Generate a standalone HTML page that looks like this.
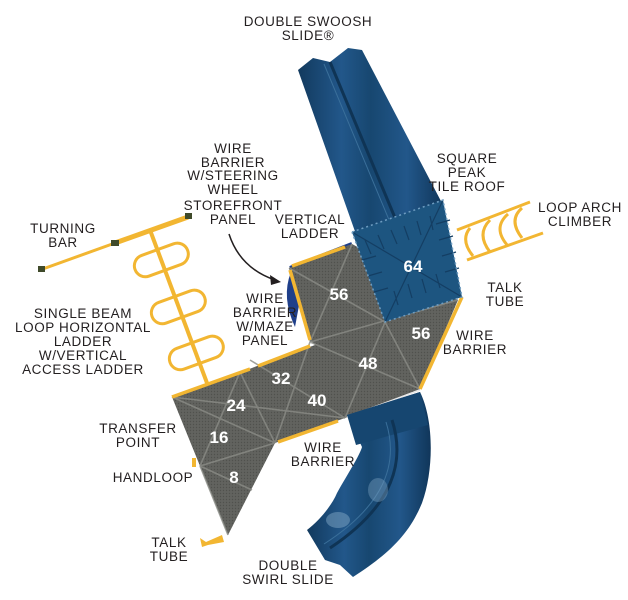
<!DOCTYPE html>
<html><head><meta charset="utf-8"><style>
html,body{margin:0;padding:0;background:#fff;}
svg{display:block;}
.l{font-family:"Liberation Sans",sans-serif;font-size:13.5px;fill:#231f20;text-anchor:middle;letter-spacing:0.6px;}
.n{font-family:"Liberation Sans",sans-serif;font-size:17px;font-weight:bold;fill:#fff;text-anchor:middle;}
</style></head><body>
<svg width="628" height="600" viewBox="0 0 628 600" xmlns="http://www.w3.org/2000/svg">
<defs>
<pattern id="mesh" width="3" height="3" patternUnits="userSpaceOnUse">
<rect width="3" height="3" fill="#62635f"/><circle cx="1.5" cy="1.5" r="0.7" fill="#50514d"/>
</pattern>
<linearGradient id="sl" x1="0" y1="0" x2="1" y2="0">
<stop offset="0" stop-color="#123a5e"/><stop offset="0.3" stop-color="#22578a"/><stop offset="0.5" stop-color="#174770"/><stop offset="0.75" stop-color="#22578a"/><stop offset="1" stop-color="#10365a"/>
</linearGradient>
</defs>

<!-- top slide -->
<polygon points="298,70 313,58 330,62 348,48 362,50 443,205 358,240" fill="url(#sl)"/>
<line x1="330" y1="62" x2="398" y2="225" stroke="#0f3455" stroke-width="3"/>
<line x1="324" y1="64" x2="392" y2="227" stroke="#3a6f9a" stroke-width="1"/>

<!-- loop arch climber -->
<g stroke="#f2b632" stroke-width="3" fill="none">
<line x1="457" y1="230" x2="530" y2="202"/>
<line x1="467" y1="260" x2="543" y2="233"/>
<path d="M470,228 q-10,12 3,28"/>
<path d="M490,220 q-14,14 0,32"/>
<path d="M508,214 q-16,14 0,32"/>
<path d="M522,208 q-14,12 0,30"/>
</g>

<!-- left ladder -->
<g stroke="#f2b632" fill="none">
<line x1="40" y1="270" x2="115" y2="243" stroke-width="3"/>
<line x1="115" y1="243" x2="188" y2="217" stroke-width="5"/>
<line x1="150" y1="230" x2="207" y2="383" stroke-width="4"/>
<g stroke-width="3">
<rect x="-28" y="-10" width="56" height="22" rx="11" transform="translate(161,259) rotate(-20)"/>
<rect x="-28" y="-10" width="56" height="22" rx="11" transform="translate(178,306) rotate(-20)"/>
<rect x="-28" y="-10" width="56" height="22" rx="11" transform="translate(196,352) rotate(-20)"/>
</g>
</g>
<g fill="#3f4a2a"><rect x="38" y="266" width="7" height="6"/><rect x="111" y="240" width="8" height="6"/><rect x="185" y="213" width="7" height="6"/></g>

<!-- blue backing near 56 -->
<path d="M291,272 q-10,25 4,55 L300,300 Z" fill="#1f3f8a"/>
<line x1="290" y1="268" x2="352" y2="244" stroke="#1f3f8a" stroke-width="4"/>

<!-- deck -->
<polygon points="289,268 352,244 458,300 420,389 345,418 275,443 228,535 172,397 315,345 310,340" fill="url(#mesh)"/>
<polygon points="289,268 352,244 385,322 310,342" fill="url(#mesh)"/>
<g stroke="#8a8c86" stroke-width="1.6" fill="none" opacity="0.8">
<line x1="289" y1="268" x2="385" y2="322"/><line x1="352" y1="244" x2="310" y2="342"/>
<line x1="310" y1="342" x2="420" y2="389"/><line x1="385" y1="322" x2="345" y2="418"/>
<line x1="458" y1="300" x2="310" y2="342"/><line x1="385" y1="322" x2="420" y2="389"/>
<line x1="310" y1="342" x2="275" y2="443"/><line x1="172" y1="397" x2="345" y2="418"/>
<line x1="240" y1="372" x2="275" y2="443"/><line x1="240" y1="372" x2="200" y2="466"/>
<line x1="172" y1="397" x2="275" y2="443"/><line x1="200" y1="466" x2="275" y2="443"/>
<line x1="200" y1="466" x2="252" y2="490"/><line x1="250" y1="360" x2="345" y2="418"/>
<line x1="200" y1="466" x2="228" y2="535"/>
</g>
<!-- yellow rails -->
<g stroke="#f2b632" stroke-width="3.5" fill="none">
<line x1="172" y1="397" x2="250" y2="369"/><line x1="258" y1="366" x2="310" y2="346"/>
<line x1="290" y1="270" x2="310" y2="340"/>
<line x1="462" y1="297" x2="420" y2="389"/>
<line x1="278" y1="442" x2="338" y2="421"/>
<line x1="292" y1="266" x2="345" y2="247"/>
</g>
<line x1="347" y1="417" x2="420" y2="390" stroke="#e8e8e8" stroke-width="1.5"/>

<!-- bottom slide -->
<path d="M347,415 L420,392 C434,420 434,470 422,503 C410,532 392,552 353,577 L340,565 L325,560 L307,530 C320,520 332,505 337,493 C347,475 360,455 362,447 Z" fill="url(#sl)"/>
<polygon points="347,415 420,392 428,425 356,445" fill="#164670"/>
<path d="M392,420 C405,460 395,505 330,548" stroke="#0f3455" stroke-width="3" fill="none"/>
<path d="M386,422 C398,460 388,503 324,544" stroke="#3a6f9a" stroke-width="1" fill="none"/>
<ellipse cx="338" cy="520" rx="12" ry="8" fill="#7fa6c4" opacity="0.5"/>
<ellipse cx="378" cy="490" rx="10" ry="12" fill="#7fa6c4" opacity="0.4"/>

<!-- roof -->
<polygon points="352,232 443,200 462,297 385,322" fill="#1d5580"/>
<g stroke="#143e63" stroke-width="1.2">
<line x1="352" y1="232" x2="462" y2="297"/><line x1="443" y1="200" x2="385" y2="322"/>
<path d="M365,240 l6,14 M378,235 l6,14 M391,230 l6,14 M404,226 l5,14 M417,221 l4,14 M430,216 l3,14 M450,220 l-14,4 M453,236 l-14,4 M456,252 l-14,4 M459,268 l-14,4 M440,288 l-4,-14 M426,293 l-4,-14 M412,298 l-4,-14 M398,305 l-4,-14 M362,260 l14,-4 M368,276 l14,-4 M374,292 l14,-4" fill="none"/>
</g>
<polygon points="352,232 443,200 462,297 385,322" fill="none" stroke="#6e9cc0" stroke-width="1.5" stroke-dasharray="2,3"/>

<!-- handloop / talk tube -->
<rect x="192" y="458" width="4" height="9" fill="#f2b632"/>
<path d="M222,535 L206,542 l-6,-4 l2,9 l6,-2 l16,-3 Z" fill="#f2b632"/>

<!-- arrow -->
<path d="M229,234 Q240,268 275,280" stroke="#231f20" stroke-width="1.5" fill="none"/>
<polygon points="281,282 270,275 271,285" fill="#231f20"/>

<!-- numbers -->
<text class="n" x="413" y="272">64</text>
<text class="n" x="339" y="300">56</text>
<text class="n" x="421" y="339">56</text>
<text class="n" x="368" y="369">48</text>
<text class="n" x="281" y="384">32</text>
<text class="n" x="317" y="406">40</text>
<text class="n" x="236" y="411">24</text>
<text class="n" x="219" y="443">16</text>
<text class="n" x="234" y="483">8</text>

<!-- labels -->
<g class="l">
<text x="308" y="26">DOUBLE SWOOSH</text><text x="308" y="40">SLIDE®</text>
<text x="233" y="153">WIRE</text><text x="233" y="167">BARRIER</text><text x="233" y="180">W/STEERING</text><text x="233" y="194">WHEEL</text>
<text x="233" y="210">STOREFRONT</text><text x="233" y="224">PANEL</text>
<text x="310" y="224">VERTICAL</text><text x="310" y="238">LADDER</text>
<text x="467" y="163">SQUARE</text><text x="467" y="177">PEAK</text><text x="467" y="191">TILE ROOF</text>
<text x="580" y="212">LOOP ARCH</text><text x="580" y="226">CLIMBER</text>
<text x="505" y="292">TALK</text><text x="505" y="306">TUBE</text>
<text x="475" y="340">WIRE</text><text x="475" y="354">BARRIER</text>
<text x="63" y="233">TURNING</text><text x="63" y="247">BAR</text>
<text x="83" y="318">SINGLE BEAM</text><text x="83" y="332">LOOP HORIZONTAL</text><text x="83" y="346">LADDER</text><text x="83" y="360">W/VERTICAL</text><text x="83" y="374">ACCESS LADDER</text>
<text x="265" y="303">WIRE</text><text x="265" y="317">BARRIER</text><text x="265" y="331">W/MAZE</text><text x="265" y="345">PANEL</text>
<text x="138" y="433">TRANSFER</text><text x="138" y="447">POINT</text>
<text x="153" y="482">HANDLOOP</text>
<text x="169" y="547">TALK</text><text x="169" y="561">TUBE</text>
<text x="323" y="452">WIRE</text><text x="323" y="466">BARRIER</text>
<text x="288" y="570">DOUBLE</text><text x="288" y="584">SWIRL SLIDE</text>
</g>
</svg>
</body></html>
